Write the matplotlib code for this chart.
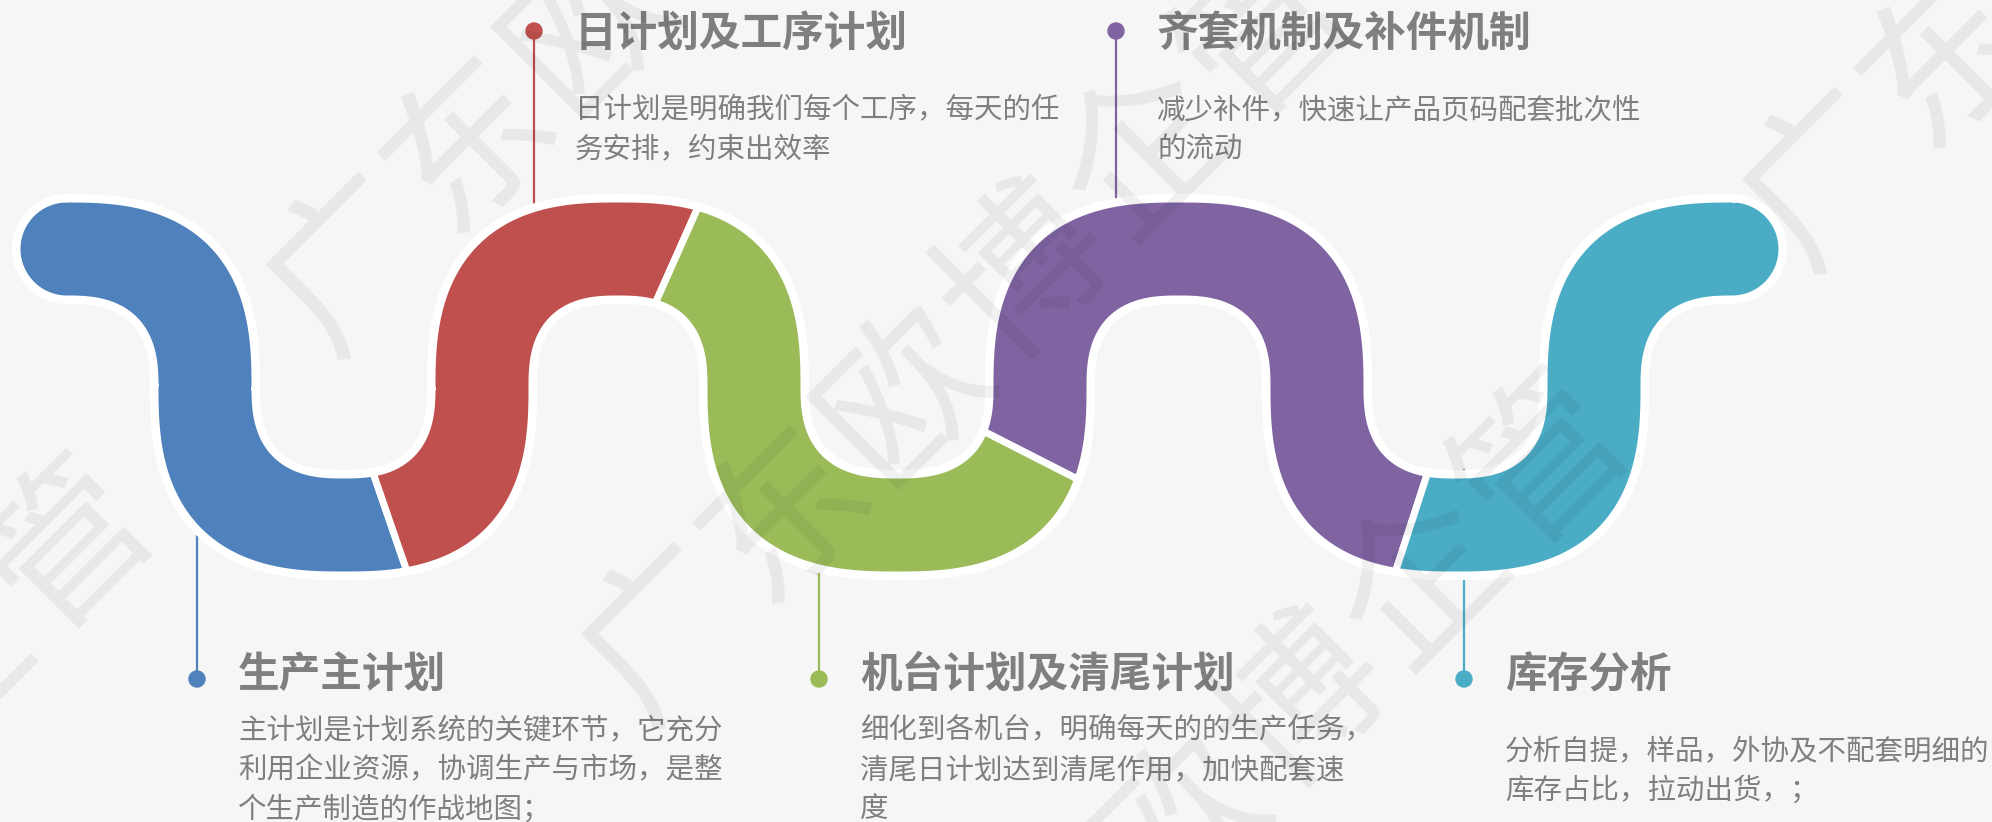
import numpy as np
import matplotlib.pyplot as plt
from matplotlib.patches import Polygon, Circle

plt.rcParams['font.family'] = ['Noto Sans CJK SC', 'DejaVu Sans']

# texts
titles = ['生产主计划', '日计划及工序计划', '机台计划及清尾计划', '齐套机制及补件机制', '库存分析']
descs = [
    ['主计划是计划系统的关键环节，它充分', '利用企业资源，协调生产与市场，是整', '个生产制造的作战地图；'],
    ['日计划是明确我们每个工序，每天的任', '务安排，约束出效率'],
    ['细化到各机台，明确每天的的生产任务，', '清尾日计划达到清尾作用，加快配套速', '度'],
    ['减少补件，快速让产品页码配套批次性', '的流动'],
    ['分析自提，样品，外协及不配套明细的', '库存占比，拉动出货，；'],
]
colors = ['#4f81bd', '#c0504d', '#9bbb59', '#8064a2', '#4bacc6']
watermark = '广东欧博企管'
# where the first character of each watermark line sits (pixels)
wm_x = [352, 667, 1828]
wm_y = [265, 635, 180]

# label layout (pixels)
dot_x = [197, 534, 819, 1116, 1464]
dot_y = [679, 31, 679, 31, 679]
title_y = [675, 34, 675, 34, 675]
desc_y = [730, 110, 730, 110, 751]

# snake layout (pixels)
col_x = [205, 482, 754, 1040, 1317, 1594]
cut_deg = [71, 66, 27, 108]
mid_y = 387
rad_y = 138
hw = 50
n_exp = 2.6

W, H = 1992, 822
fig = plt.figure(figsize=(W / 100, H / 100), dpi=100)
fig.patch.set_facecolor('#f6f6f6')
ax = fig.add_axes([0, 0, 1, 1])
ax.set_xlim(0, W)
ax.set_ylim(H, 0)
ax.axis('off')


def se(cx, A, B, phis, s):
    c, sn = np.cos(phis), np.sin(phis)
    r = (np.abs(c / A) ** n_exp + np.abs(sn / B) ** n_exp) ** (-1 / n_exp)
    return np.column_stack([cx + r * c, mid_y - s * r * sn])


def band(pieces, cap_start=False, cap_end=False):
    P, Q = [], []
    for cx, a, up, f0, f1 in pieces:
        phis = np.radians(np.linspace(f0, f1, 150))
        s = 1 if up else -1
        outer = se(cx, a + hw, rad_y + hw, phis, s)
        inner = se(cx, a - hw, rad_y - hw, phis, s)
        if up:
            P.append(outer); Q.append(inner)
        else:
            P.append(inner); Q.append(outer)
    P = np.vstack(P)
    Q = np.vstack(Q)
    pts = [P]
    if cap_end:
        c = (P[-1] + Q[-1]) / 2
        th = np.radians(np.linspace(-90, 90, 60))
        pts.append(np.column_stack([c[0] + hw * np.cos(th), c[1] + hw * np.sin(th)]))
    pts.append(Q[::-1])
    if cap_start:
        c = (P[0] + Q[0]) / 2
        th = np.radians(np.linspace(90, 270, 60))
        pts.append(np.column_stack([c[0] + hw * np.cos(th), c[1] + hw * np.sin(th)]))
    return np.vstack(pts)


# arches: head left, 5 inner arches, head right
a_vals = [(col_x[i + 1] - col_x[i]) / 2 for i in range(len(col_x) - 1)]
c_vals = [(col_x[i + 1] + col_x[i]) / 2 for i in range(len(col_x) - 1)]
a_head = 138
hl = (col_x[0] - a_head, a_head)
hr = (col_x[-1] + a_head, a_head)
ar = list(zip(c_vals, a_vals))

pieces = [
    [(hl[0], hl[1], True, 90, 0), (ar[0][0], ar[0][1], False, 180, cut_deg[0])],
    [(ar[0][0], ar[0][1], False, cut_deg[0], 0), (ar[1][0], ar[1][1], True, 180, cut_deg[1])],
    [(ar[1][0], ar[1][1], True, cut_deg[1], 0), (ar[2][0], ar[2][1], False, 180, cut_deg[2])],
    [(ar[2][0], ar[2][1], False, cut_deg[2], 0), (ar[3][0], ar[3][1], True, 180, 0),
     (ar[4][0], ar[4][1], False, 180, cut_deg[3])],
    [(ar[4][0], ar[4][1], False, cut_deg[3], 0), (hr[0], hr[1], True, 180, 90)],
]
polys = []
for i, pc in enumerate(pieces):
    polys.append(band(pc, cap_start=(i == 0), cap_end=(i == len(pieces) - 1)))

# connectors
for i in range(5):
    y_end = 300 if dot_y[i] < mid_y else 470
    ax.plot([dot_x[i], dot_x[i]], [dot_y[i], y_end], color=colors[i], lw=1.6, zorder=1)
    ax.add_patch(Circle((dot_x[i], dot_y[i]), 8, color=colors[i], zorder=4))

for p in polys:
    ax.add_patch(Polygon(p, closed=True, facecolor='white', edgecolor='white',
                         lw=10 * 0.72, joinstyle='round', zorder=2))
for p, c in zip(polys, colors):
    ax.add_patch(Polygon(p, closed=True, facecolor=c, edgecolor='white',
                         lw=7 * 0.72, joinstyle='miter', zorder=3))

# labels
for i in range(5):
    tx = dot_x[i] + 41
    ax.text(tx, title_y[i], titles[i], fontsize=30, fontweight='heavy', color='#7f7f7f',
            ha='left', va='center', zorder=4)
    for k, line in enumerate(descs[i]):
        ax.text(tx, desc_y[i] + 40 * k, line, fontsize=20.5, color='#7f7f7f',
                ha='left', va='center', zorder=4)

# watermark: repeated along 45 degree lines
u = np.array([np.cos(np.radians(45)), -np.sin(np.radians(45))])
step = 170
period = 5 * step + 400
for x0, y0 in zip(wm_x, wm_y):
    for m in range(-3, 4):
        for idx, ch in enumerate(watermark):
            x, y = np.array([x0, y0]) + (m * period + idx * step) * u
            if x < -70 or x > W + 70 or y < -70 or y > H + 70:
                continue
            ax.text(x, y, ch, fontsize=118, rotation=45, rotation_mode='anchor',
                    ha='center', va='center', color='black', alpha=0.06, zorder=10)

fig.savefig('out.png', dpi=100, facecolor=fig.get_facecolor())
